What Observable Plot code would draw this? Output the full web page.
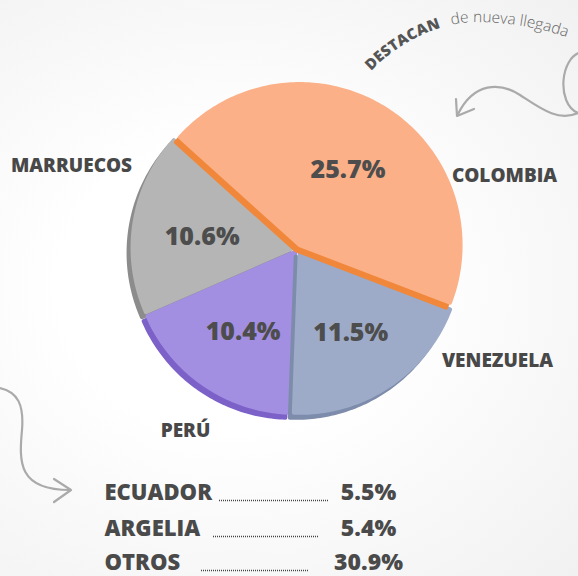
<!DOCTYPE html>
<html><head><meta charset="utf-8">
<script src="https://cdn.jsdelivr.net/npm/d3@7"></script>
<script src="https://cdn.jsdelivr.net/npm/@observablehq/plot@0.6"></script>
<style>
html,body{margin:0;padding:0;}
body{width:578px;height:576px;overflow:hidden;background:radial-gradient(ellipse at 40% 50%, #ffffff 35%, #f1f1f1 100%);}
#chart svg{display:block;}
</style></head><body><div id="chart"></div>
<script>
// ---- data ----
const countries = ["COLOMBIA", "VENEZUELA", "PERÚ", "MARRUECOS"];
const shares = [25.7, 11.5, 10.4, 10.6];
const listCountries = ["ECUADOR", "ARGELIA", "OTROS"];
const listShares = [5.5, 5.4, 30.9];
const headline = ["DESTACAN", "de nueva llegada"];

// ---- style / layout ----
const faceColors = ["#FBB088", "#9DABC9", "#A38FE2", "#B5B5B5"];
const sideColors = ["#F0873A", "#7E8CAC", "#7C61C8", "#8C8C8C"];
const W = 578, H = 576;
const cx = 297, cy = 248, R = 161, explode = 4;
const startDeg = -48;
const outerLabelOffset = [[207, -73], [200, 112], [-112, 182], [-226, -83]];
const rowY = [492, 528, 562];
const rowLeader = [[219, 328], [213, 318], [201, 308]];
const labelFont = "'Open Sans', sans-serif";

const toRad = d => d * Math.PI / 180;
const arcs = d3.pie().sort(null)
  .startAngle(toRad(startDeg)).endAngle(toRad(startDeg) + 2 * Math.PI)(shares);

function polygon(arc, dx, dy) {
  const mid = (arc.startAngle + arc.endAngle) / 2;
  const ox = cx + explode * Math.sin(mid) + dx, oy = cy - explode * Math.cos(mid) + dy;
  const pts = [{x: ox, y: oy}];
  const n = Math.max(2, Math.ceil((arc.endAngle - arc.startAngle) / toRad(1)));
  for (let i = 0; i <= n; i++) {
    const a = arc.startAngle + (arc.endAngle - arc.startAngle) * i / n;
    pts.push({x: ox + R * Math.sin(a), y: oy - R * Math.cos(a)});
  }
  pts.push({x: ox, y: oy});
  return pts;
}

const marks = [];
arcs.forEach(a => marks.push(Plot.line(polygon(a, -3, 10), {x: "x", y: "y", fill: "#000", fillOpacity: 0.35, stroke: "none", ariaLabel: "pie-shadow"})));
[3, 2, 1, 0].forEach(i => {
  const a = arcs[i];
  marks.push(Plot.line(polygon(a, -4, 5), {x: "x", y: "y", fill: sideColors[i], stroke: sideColors[i], strokeWidth: 4, strokeLinejoin: "round"}));
  marks.push(Plot.line(polygon(a, 0, 0), {x: "x", y: "y", fill: faceColors[i], stroke: faceColors[i], strokeWidth: 4, strokeLinejoin: "round"}));
});

const inner = arcs.map((a, i) => {
  const m = (a.startAngle + a.endAngle) / 2;
  return {x: cx + 0.6 * R * Math.sin(m), y: cy - 0.6 * R * Math.cos(m) + 4, t: shares[i].toFixed(1) + "%"};
});
marks.push(Plot.text(inner, {x: "x", y: "y", text: "t", fontSize: 25, fontWeight: 800, fontFamily: labelFont, fill: "#4d4d4d", ariaLabel: "pct"}));

const outer = countries.map((c, i) => ({x: cx + outerLabelOffset[i][0], y: cy + outerLabelOffset[i][1], t: c}));
marks.push(Plot.text(outer, {x: "x", y: "y", text: "t", fontSize: 19, fontWeight: 800, fontFamily: labelFont, fill: "#484848"}));

const rows = listCountries.map((c, i) => ({c, v: listShares[i].toFixed(1) + "%", y: rowY[i], x1: rowLeader[i][0], x2: rowLeader[i][1]}));
marks.push(Plot.text(rows, {x: () => 104, y: "y", text: "c", textAnchor: "start", fontSize: 22, fontWeight: 800, fontFamily: labelFont, fill: "#4a4a4a"}));
marks.push(Plot.text(rows, {x: () => 368, y: "y", text: "v", fontSize: 23, fontWeight: 800, fontFamily: labelFont, fill: "#4a4a4a", ariaLabel: "pct"}));
marks.push(Plot.ruleY(rows, {y: d => d.y + 8, x1: "x1", x2: "x2", stroke: "#444", strokeWidth: 1.4, strokeDasharray: "1 1"}));

const chart = Plot.plot({
  width: W, height: H, margin: 0,
  x: {domain: [0, W], range: [0, W], axis: null},
  y: {domain: [0, H], range: [0, H], axis: null},
  style: {background: "transparent", overflow: "visible"},
  marks
});
document.getElementById("chart").append(chart);

const svg = d3.select(chart);
const defs = svg.insert("defs", ":first-child");
defs.append("filter").attr("id", "blur").attr("x", "-20%").attr("y", "-20%").attr("width", "140%").attr("height", "140%")
  .append("feGaussianBlur").attr("stdDeviation", 6);
const ds = defs.append("filter").attr("id", "tshadow").attr("x", "-20%").attr("y", "-30%").attr("width", "140%").attr("height", "160%");
ds.append("feDropShadow").attr("dx", 1).attr("dy", 1.5).attr("stdDeviation", 1).attr("flood-color", "#000").attr("flood-opacity", 0.3);
svg.selectAll('g[aria-label="pie-shadow"]').attr("filter", "url(#blur)");
svg.selectAll('g[aria-label="pct"]').attr("filter", "url(#tshadow)");

const deco = svg.append("g").attr("fill", "none").attr("stroke", "#aaaaaa").attr("stroke-width", 2.2).attr("stroke-linecap", "round").attr("stroke-linejoin", "round");
deco.append("path").attr("d", "M582 52 C560 56 556 104 578 113");
deco.append("path").attr("d", "M578 113 C558 122 540 108 520 95 C500 82 474 82 458 114");
deco.append("path").attr("d", "M456 99 L457 116 L474 109");
deco.append("path").attr("d", "M0 388 C18 392 24 405 22 430 C19 462 18 490 70 490");
deco.append("path").attr("d", "M54 479 L71 490 L54 502");

defs.append("path").attr("id", "arcpath").attr("d", "M371 71 C400 41 442 21 478 22 C515 23 552 29 588 46");
svg.append("text").attr("font-family", "'Open Sans', sans-serif").attr("font-size", 15).attr("font-weight", 800)
  .attr("fill", "#555").attr("letter-spacing", 0.3).attr("text-anchor", "start")
  .append("textPath").attr("href", "#arcpath").attr("startOffset", 0).text(headline[0]);
svg.append("text").attr("font-family", "'Open Sans', sans-serif").attr("font-size", 15.5).attr("font-weight", 300)
  .attr("fill", "#666").attr("text-anchor", "start")
  .append("textPath").attr("href", "#arcpath").attr("startOffset", 94).text(headline[1]);
</script>
</body></html>
